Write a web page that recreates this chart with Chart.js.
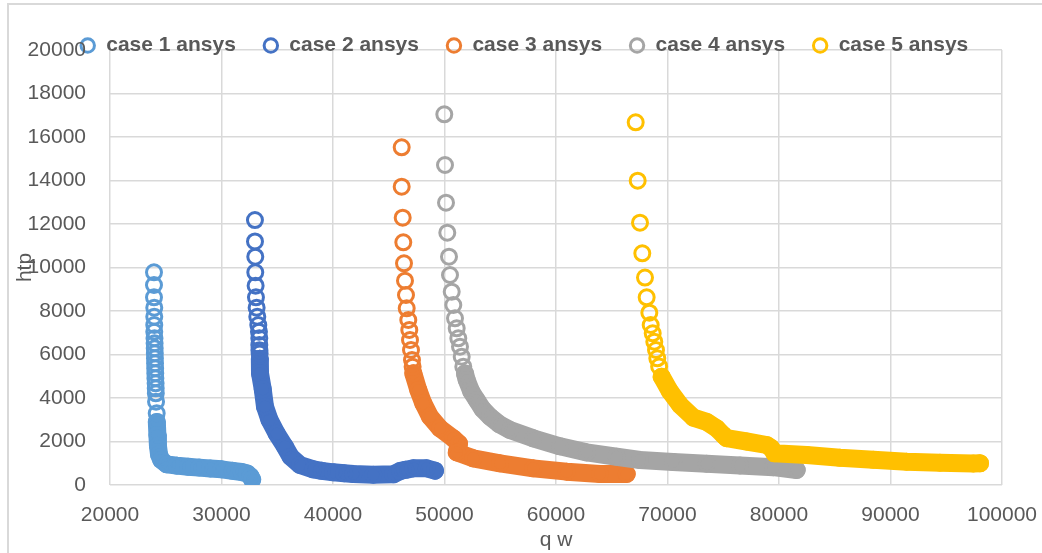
<!DOCTYPE html>
<html>
<head>
<meta charset="utf-8">
<title>htp vs q w</title>
<script src="https://cdn.jsdelivr.net/npm/chart.js@4"></script>
<style>
  html, body { margin: 0; background: #fff; }
  #box { width: 1042px; height: 553px; position: relative; }
</style>
</head>
<body>
<div id="box"><canvas id="chart"></canvas></div>
<script>
// values (q w , htp)
const seriesNames = ["case 1 ansys", "case 2 ansys", "case 3 ansys", "case 4 ansys", "case 5 ansys"];

const case1Q = [23946, 23946, 23946, 23970, 23970, 23970, 23970, 23990, 24000, 24010, 24020, 24030, 24040, 24050, 24060, 24070, 24090, 24100, 24110, 24130, 24188,
  24200, 24250, 24300, 24400, 24600, 25100, 26000, 27000, 28000, 29000, 30000, 31000, 31800, 32300, 32600, 32750];
const case1H = [9779, 9195, 8628, 8153, 7740, 7356, 7050, 6743, 6513, 6284, 6054, 5824, 5594, 5364, 5134, 4904, 4674, 4444, 4215, 3831, 3295,
  2900, 2300, 1800, 1400, 1150, 950, 890, 840, 800, 760, 720, 650, 600, 530, 400, 250];

const case2Q = [33000, 33004, 33030, 33030, 33060, 33090, 33150, 33210, 33300, 33360, 33390, 33390, 33400, 33420,
  33440, 33453, 33700, 33901, 34300, 34950, 35695, 36200, 37040, 38236, 39000, 40027, 41000, 41821, 43615, 45408, 46009, 46500, 47200, 48404, 49148];
const case2H = [12180, 11200, 10498, 9779, 9165, 8628, 8153, 7740, 7356, 7050, 6743, 6437, 6200, 6050,
  5800, 5134, 4400, 3600, 3000, 2360, 1760, 1300, 920, 720, 650, 582, 540, 506, 475, 490, 640, 700, 766, 766, 659];

const case3Q = [46161, 46161, 46251, 46305, 46368, 46457, 46547, 46610, 46753, 46843, 46906, 46996, 47085, 47140,
  47202, 47650, 48099, 48700, 49596, 50789, 51300, 51100, 52583, 54978, 57964, 60960, 63946, 66341];
const case3H = [15527, 13716, 12291, 11158, 10191, 9395, 8736, 8123, 7586, 7126, 6667, 6207, 5747, 5440,
  5134, 4368, 3755, 3142, 2605, 2146, 1900, 1500, 1226, 996, 766, 613, 506, 506];

const case4Q = [49982, 50045, 50135, 50251, 50404, 50493, 50646, 50789, 50942, 51094, 51238, 51390, 51543, 51686,
  51840, 51991, 52400, 52888, 53400, 54081, 54900, 55874, 57964, 60359, 62753, 65444, 67534, 70500, 73513, 76500, 79489, 81587];
const case4H = [17044, 14713, 12981, 11601, 10498, 9655, 8889, 8276, 7663, 7203, 6743, 6360, 5900, 5441,
  5130, 4828, 4300, 3908, 3500, 3142, 2800, 2529, 2146, 1780, 1500, 1300, 1150, 1060, 980, 900, 820, 690];

const case5Q = [67148, 67327, 67534, 67740, 67982, 68131, 68371, 68493, 68673, 68816, 68969, 69085, 69250,
  69475, 70224, 71121, 72316, 73513, 74410, 75000, 75307, 77101, 78895, 79300, 79600, 82484, 85471, 88457, 91453, 94439, 97426, 98027];
const case5H = [16674, 13993, 12061, 10652, 9535, 8628, 7923, 7356, 6973, 6590, 6207, 5824, 5450,
  4980, 4300, 3680, 3100, 2900, 2605, 2300, 2150, 2000, 1839, 1700, 1456, 1379, 1250, 1160, 1073, 1027, 990, 996];

const xTicks = { min: 20000, max: 100000, step: 10000 };
const yTicks = { min: 0, max: 20000, step: 2000 };

// style
const colors = ["#5B9BD5", "#4472C4", "#ED7D31", "#A5A5A5", "#FFC000"];
// below this htp the markers overlap into a solid band
const bandBelow = [3000, 5900, 5300, 5200, 5100];
const FONT = "'Liberation Sans', Arial, sans-serif";
const TEXT = "#595959";
const GRID = "#d9d9d9";
const LEGEND_H = 42;
const LEGEND_DX = 23;

const allQ = [case1Q, case2Q, case3Q, case4Q, case5Q];
const allH = [case1H, case2H, case3H, case4H, case5H];

const datasets = seriesNames.map((name, i) => {
  const col = colors[i];
  const cut = bandBelow[i];
  return {
    label: name,
    data: allQ[i].map((q, k) => ({ x: q, y: allH[i][k] })),
    order: seriesNames.length - i,
    showLine: true,
    fill: false,
    borderColor: col,
    backgroundColor: "rgba(0,0,0,0)",
    borderWidth: 18,
    borderCapStyle: "round",
    borderJoinStyle: "round",
    segment: {
      borderColor: ctx => (ctx.p0.parsed.y <= cut && ctx.p1.parsed.y <= cut) ? col : "rgba(0,0,0,0)"
    },
    pointStyle: "circle",
    pointRadius: 7.5,
    pointHoverRadius: 7.5,
    pointBorderWidth: 3,
    pointBorderColor: col,
    pointBackgroundColor: "rgba(0,0,0,0)"
  };
});

// legend sits over the top of the plot, like the original
const legendOverlay = {
  id: "legendOverlay",
  beforeLayout(chart) {
    const lg = chart.legend;
    if (!lg || lg._patched) return;
    const fit = lg.fit;
    lg.fit = function () { fit.call(this); this.height = LEGEND_H; };
    const draw = lg.draw;
    lg.draw = function () {
      const c = this.ctx;
      const h = this.height, b = this.bottom;
      this.height = h + 20;
      this.bottom = b + 20;
      c.save();
      c.translate(LEGEND_DX, 0);
      draw.call(this);
      c.restore();
      this.height = h;
      this.bottom = b;
    };
    lg._patched = true;
  }
};

const frame = {
  id: "frame",
  beforeDraw(chart) {
    const c = chart.ctx;
    c.save();
    c.fillStyle = "#fff";
    c.fillRect(0, 0, chart.width, chart.height);
    c.strokeStyle = GRID;
    c.lineWidth = 2;
    c.beginPath();
    c.moveTo(8, chart.height);
    c.lineTo(8, 4);
    c.lineTo(chart.width, 4);
    c.stroke();
    c.restore();
  }
};

new Chart(document.getElementById("chart"), {
  type: "scatter",
  data: { datasets },
  plugins: [legendOverlay, frame],
  options: {
    responsive: true,
    maintainAspectRatio: false,
    animation: false,
    layout: { padding: { top: 8, left: 0, right: 40, bottom: 0 } },
    plugins: {
      tooltip: { enabled: false },
      legend: {
        position: "top",
        labels: {
          usePointStyle: true,
          boxWidth: 16,
          boxHeight: 9.5,
          padding: 27,
          color: TEXT,
          font: { family: FONT, size: 21, weight: "bold" },
          sort: (a, b) => a.datasetIndex - b.datasetIndex
        }
      }
    },
    scales: {
      x: {
        type: "linear",
        min: xTicks.min,
        max: xTicks.max,
        afterFit: s => { s.height = 68; s.paddingLeft = 0; s.paddingRight = 0; },
        ticks: { stepSize: xTicks.step, padding: 18, color: TEXT, font: { family: FONT, size: 21 }, maxRotation: 0, callback: v => String(v) },
        grid: { color: GRID, lineWidth: 1.5, drawTicks: false },
        border: { display: false },
        title: { display: true, text: "q w", color: TEXT, font: { family: FONT, size: 21 }, padding: { top: 0, bottom: 0 } }
      },
      y: {
        min: yTicks.min,
        max: yTicks.max,
        afterFit: s => { s.width = 110; },
        ticks: { stepSize: yTicks.step, padding: 24, color: TEXT, font: { family: FONT, size: 21 }, callback: v => String(v) },
        grid: { color: GRID, lineWidth: 1.5, drawTicks: false },
        border: { display: false },
        title: { display: true, text: "htp", color: TEXT, font: { family: FONT, size: 21 }, padding: { top: 13, bottom: 0 } }
      }
    }
  }
});
</script>
</body>
</html>
